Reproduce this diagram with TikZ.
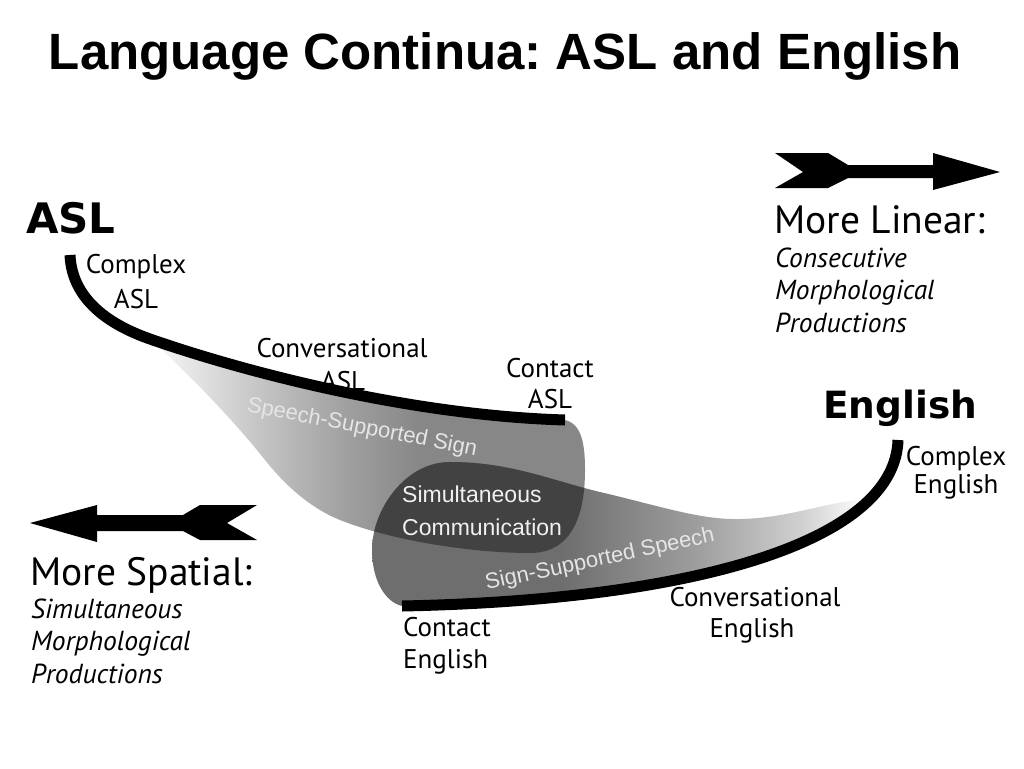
\documentclass[tikz,border=0pt]{standalone}
\usepackage{fontspec}
\newfontfamily\labf{PT Sans}
\newfontfamily\headf{DejaVu Sans}
\newfontfamily\arialf{Liberation Sans}
\frenchspacing
\definecolor{agray}{gray}{0.53}
\definecolor{bgray}{gray}{0.43}
\definecolor{darkg}{gray}{0.26}
\definecolor{bandtxt}{gray}{0.9}
\pgfdeclarehorizontalshading{ashade}{100bp}{color(0bp)=(white); color(26bp)=(white!96!black); color(37bp)=(white!78!black); color(48bp)=(white!62!black); color(56bp)=(agray); color(100bp)=(agray)}
\pgfdeclarehorizontalshading{bshade}{100bp}{color(0bp)=(bgray); color(43bp)=(bgray); color(56bp)=(white!62!black); color(66bp)=(white!82!black); color(72bp)=(white); color(100bp)=(white)}
\tikzset{
  pA/.style={insert path={(150,339) .. controls (230,367) and (400,415) .. (565,420) .. controls (582,424) and (585,445) .. (585,470) .. controls (585,515) and (572,553) .. (530,553) .. controls (470,553) and (390,540) .. (340,520) .. controls (310,508) and (285,485) .. (265,460) .. controls (235,422) and (190,375) .. (150,339) -- cycle}},
  pB/.style={insert path={(898,440) .. controls (895,540) and (700,600) .. (402,606) .. controls (385,602) and (372,580) .. (372,550) .. controls (372,510) and (405,462) .. (450,462) .. controls (510,462) and (550,480) .. (600,492) .. controls (660,506) and (700,520) .. (740,519) .. controls (790,518) and (825,502) .. (862,500) -- cycle}},
  continuum/.style={line width=11pt, line cap=butt},
  lab/.style={font=\labf\fontsize{27}{30}\selectfont, inner sep=0pt},
  ital/.style={font=\labf\itshape\fontsize{27.5}{30}\selectfont, inner sep=0pt, anchor=base west},
  big/.style={font=\labf\fontsize{39.5}{42}\selectfont, inner sep=0pt, anchor=base west},
  heading/.style={font=\headf\bfseries\fontsize{42}{44}\selectfont, inner sep=0pt, anchor=base west},
  band/.style={font=\arialf\fontsize{22}{26}\selectfont, text=bandtxt, inner sep=0pt},
  simul/.style={font=\arialf\fontsize{23}{26}\selectfont, text=white!94!black, inner sep=0pt, anchor=base west}
}
\begin{document}
\begin{tikzpicture}[x=1pt,y=-1pt]
\useasboundingbox (0,0) rectangle (1024,768);
\fill[white] (0,0) rectangle (1024,768);

% title
\node[font=\arialf\bfseries\fontsize{51}{56}\selectfont, inner sep=0pt, anchor=base] (title) at (505,70) {Language Continua: ASL and English};

% gray bands
\shade[shading=ashade, pA];
\shade[shading=bshade, pB];
\begin{scope}
  \clip[pA];
  \fill[darkg, pB];
\end{scope}

% continua
\draw[continuum] (70,255) .. controls (72,300) and (110,325) .. (150,339) .. controls (230,367) and (400,415) .. (565,420);
\draw[continuum] (898,440) .. controls (895,540) and (700,600) .. (402,606);

% arrows
\fill[black] (775,153) -- (828,153) -- (848,165) -- (933,165) -- (933,153) -- (1000,172) -- (933,190) -- (933,178) -- (848,178) -- (828,188) -- (775,188) -- (803,172) -- cycle;
\fill[black] (30,523) -- (97,505) -- (97,515) -- (183,515) -- (200,505) -- (257,505) -- (227,523) -- (257,540) -- (200,540) -- (183,531) -- (97,531) -- (97,542) -- cycle;

% headings
\node[heading] (asl) at (26,233) {ASL};
\node[heading, font=\headf\bfseries\fontsize{37.5}{42}\selectfont] (eng) at (823,418) {English};

% labels
\node[lab, anchor=base] (c1a) at (136,273) {Complex};
\node[lab, anchor=base] (c1b) at (136,308) {ASL};
\node[lab, anchor=base] (c2a) at (342,357) {Conversational};
\node[lab, anchor=base] (c2b) at (343,390) {ASL};
\node[lab, anchor=base] (c3a) at (550,377) {Contact};
\node[lab, anchor=base] (c3b) at (550,408) {ASL};
\node[lab, anchor=base] (e1a) at (956,465) {Complex};
\node[lab, anchor=base] (e1b) at (956,493) {English};
\node[lab, anchor=base] (e2a) at (755,606) {Conversational};
\node[lab, anchor=base] (e2b) at (752,637) {English};
\node[lab, anchor=base west] (e3a) at (403,636) {Contact};
\node[lab, anchor=base west] (e3b) at (403,668) {English};

% side texts
\node[big] (lin) at (774,233) {More Linear:};
\node[ital] (lin1) at (775,267) {Consecutive};
\node[ital] (lin2) at (775,299) {Morphological};
\node[ital] (lin3) at (775,332) {Productions};
\node[big] (spa) at (30,585) {More Spatial:};
\node[ital] (spa1) at (31,618) {Simultaneous};
\node[ital] (spa2) at (31,650) {Morphological};
\node[ital] (spa3) at (31,683) {Productions};

% band labels
\node[band, rotate=-11] (sss) at (362,428) {Speech-Supported Sign};
\node[band, rotate=12] (ssp) at (600,560) {Sign-Supported Speech};
\node[simul] (sim1) at (402,502) {Simultaneous};
\node[simul] (sim2) at (402,535) {Communication};
\end{tikzpicture}
\end{document}
